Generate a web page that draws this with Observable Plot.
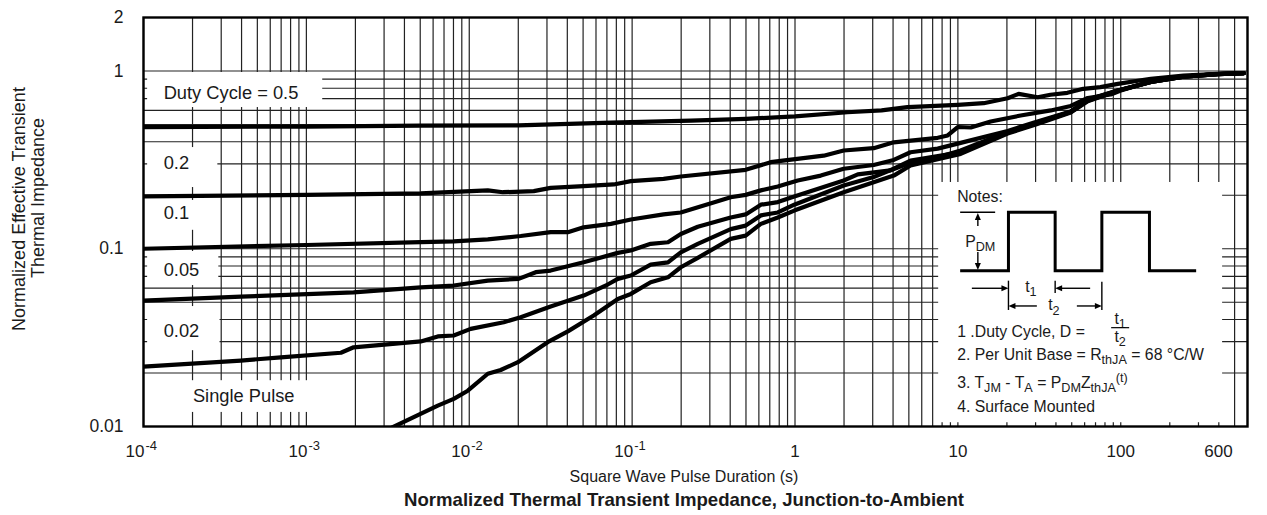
<!DOCTYPE html>
<html><head><meta charset="utf-8">
<script src="https://cdn.jsdelivr.net/npm/d3@7"></script>
<script src="https://cdn.jsdelivr.net/npm/@observablehq/plot@0.6"></script>
<style>body{margin:0;background:#fff} svg{display:block} text{white-space:pre}</style>
</head><body><div id="chart"></div>
<script>
// ---- data: pulse duration (s) and normalized Z per duty cycle ----
const t_d05 = [1e-4, 1e-3, 5e-3, 0.02, 0.074, 0.23, 0.5, 1.0, 2.1, 3.4, 4.9, 10, 14.4, 20.2, 23.6, 30.9, 37, 47, 59, 75, 96, 153, 243, 394, 569];
const z_d05 = [0.483, 0.487, 0.493, 0.495, 0.513, 0.526, 0.538, 0.555, 0.586, 0.60, 0.626, 0.645, 0.659, 0.703, 0.744, 0.712, 0.735, 0.754, 0.794, 0.811, 0.847, 0.904, 0.943, 0.964, 0.972];

const t_d02 = [1e-4, 1e-3, 0.00504, 0.013, 0.0161, 0.0249, 0.0316, 0.0504, 0.0771, 0.0982, 0.156, 0.199, 0.498, 0.709, 1.5, 1.99, 3.04, 4.04, 7.52, 8.66, 9.98, 12.0, 15.9, 24.3, 37.2, 49.3, 62.7, 86.7, 100, 153, 243, 394, 569];
const z_d02 = [0.197, 0.201, 0.205, 0.213, 0.208, 0.211, 0.220, 0.225, 0.230, 0.240, 0.247, 0.255, 0.278, 0.307, 0.334, 0.357, 0.368, 0.397, 0.421, 0.434, 0.484, 0.481, 0.520, 0.562, 0.600, 0.636, 0.705, 0.738, 0.777, 0.873, 0.931, 0.962, 0.972];

const t_d01 = [1e-4, 1e-3, 0.00504, 0.00803, 0.013, 0.0207, 0.0316, 0.0403, 0.0504, 0.074, 0.0982, 0.156, 0.199, 0.403, 0.498, 0.617, 0.784, 1.04, 1.44, 1.99, 3.04, 4.04, 5.12, 7.52, 10.4, 20.2, 30.1, 49.3, 62.7, 95.8, 153, 243, 394, 569];
const z_d01 = [0.100, 0.105, 0.109, 0.110, 0.113, 0.118, 0.124, 0.124, 0.132, 0.138, 0.146, 0.156, 0.160, 0.195, 0.201, 0.213, 0.224, 0.242, 0.258, 0.282, 0.296, 0.316, 0.349, 0.366, 0.394, 0.460, 0.516, 0.592, 0.691, 0.777, 0.868, 0.930, 0.960, 0.972];

const t_d005 = [1e-4, 0.000396, 0.00195, 0.00504, 0.00803, 0.013, 0.0201, 0.0256, 0.0316, 0.0504, 0.0817, 0.0982, 0.130, 0.166, 0.199, 0.253, 0.403, 0.498, 0.617, 0.784, 0.99, 1.99, 2.43, 3.86, 4.92, 7.52, 10.4, 20.2, 30.1, 49.3, 62.7, 95.8, 153, 243, 394, 569];
const z_d005 = [0.0511, 0.0538, 0.0569, 0.0607, 0.0621, 0.0662, 0.0677, 0.0738, 0.0754, 0.0839, 0.0948, 0.0977, 0.1066, 0.1088, 0.121, 0.133, 0.150, 0.156, 0.177, 0.183, 0.197, 0.242, 0.262, 0.276, 0.301, 0.327, 0.357, 0.454, 0.510, 0.590, 0.687, 0.777, 0.868, 0.930, 0.960, 0.972];

const t_d002 = [1e-4, 0.000396, 0.000697, 0.00163, 0.00195, 0.00504, 0.00641, 0.00803, 0.0102, 0.0163, 0.0207, 0.0316, 0.0504, 0.0708, 0.0817, 0.0982, 0.130, 0.166, 0.199, 0.253, 0.403, 0.498, 0.617, 0.784, 0.99, 1.99, 3.04, 4.04, 5.12, 10.4, 20.2, 30.1, 49.3, 62.7, 95.8, 153, 243, 394, 569];
const z_d002 = [0.0217, 0.0235, 0.0245, 0.0260, 0.0279, 0.0301, 0.0321, 0.0325, 0.0354, 0.0386, 0.0412, 0.0473, 0.0545, 0.0629, 0.0677, 0.0707, 0.0815, 0.0839, 0.0955, 0.1066, 0.129, 0.135, 0.154, 0.160, 0.177, 0.227, 0.253, 0.282, 0.313, 0.349, 0.450, 0.505, 0.588, 0.680, 0.775, 0.868, 0.930, 0.960, 0.972];

const t_single = [0.0033, 0.00641, 0.00803, 0.0098, 0.013, 0.0156, 0.0199, 0.0303, 0.0403, 0.0581, 0.0817, 0.0982, 0.130, 0.166, 0.199, 0.253, 0.403, 0.498, 0.617, 0.784, 0.99, 1.99, 3.04, 4.04, 5.12, 10.4, 20.2, 30.1, 49.3, 62.7, 95.8, 153, 243, 394, 569];
const z_single = [0.0098, 0.0131, 0.0143, 0.0159, 0.0198, 0.0208, 0.0230, 0.0298, 0.0343, 0.0421, 0.0522, 0.0557, 0.0648, 0.0691, 0.0787, 0.0889, 0.1137, 0.1186, 0.138, 0.150, 0.164, 0.208, 0.237, 0.258, 0.294, 0.342, 0.445, 0.500, 0.585, 0.675, 0.775, 0.868, 0.930, 0.960, 0.972];

const seriesNames = ["0.5", "0.2", "0.1", "0.05", "0.02", "Single Pulse"];
const seriesT = [t_d05, t_d02, t_d01, t_d005, t_d002, t_single];
const seriesZ = [z_d05, z_d02, z_d01, z_d005, z_d002, z_single];

// ---- ticks and labels ----
const xPowTicks = [1e-4, 1e-3, 1e-2, 1e-1];
const xPowExp = ["-4", "-3", "-2", "-1"];
const xPlainTicks = [1, 10, 100];
const xEndTick = [600];
const yTickValues = [0.01, 0.1, 1, 2];
const yTickLabels = ["0.01", "0.1", "1", "2"];

const curveLabels = ["Duty Cycle = 0.5", "0.2", "0.1", "0.05", "0.02", "Single Pulse"];
const curveLabelT = [1.33e-4, 1.33e-4, 1.33e-4, 1.33e-4, 1.33e-4, 2.01e-4];
const curveLabelZ = [0.747, 0.302, 0.158, 0.0754, 0.0342, 0.0149];

// white backing boxes (label boxes + notes box), in data units
const boxT1 = [1.06e-4, 1.06e-4, 1.06e-4, 1.06e-4, 1.06e-4, 1.06e-4, 7.62];
const boxT2 = [1.26e-3, 2.86e-4, 2.86e-4, 2.9e-4, 2.95e-4, 1.75e-3, 422];
const boxZ1 = [0.623, 0.221, 0.127, 0.0621, 0.0267, 0.0120, 0.0105];
const boxZ2 = [0.981, 0.371, 0.187, 0.0965, 0.0473, 0.0181, 0.236];

const rows = seriesNames.flatMap((s, k) => seriesT[k].map((t, i) => ({series: s, t, z: seriesZ[k][i]})));
const boxes = boxT1.map((v, i) => ({t1: v, t2: boxT2[i], z1: boxZ1[i], z2: boxZ2[i]}));
const gridX = d3.range(-4, 3).flatMap(k => d3.range(1, 10).map(m => m * 10 ** k)).filter(v => v <= 600);
const gridY = d3.range(-2, 0).flatMap(k => d3.range(1, 10).map(m => m * 10 ** k)).concat([1]);

const FONT = "'Liberation Sans', Arial, Helvetica, sans-serif";
const INK = "#1a1a1a";

const chart = Plot.plot({
  width: 1267, height: 515,
  marginLeft: 143, marginRight: 20, marginTop: 17, marginBottom: 89,
  style: {fontFamily: FONT, fontSize: "17px", color: INK, background: "white"},
  x: {type: "log", domain: [1e-4, 600], axis: null},
  y: {type: "log", domain: [0.01, 2], axis: null},
  marks: [
    Plot.ruleX(gridX, {stroke: "#222", strokeWidth: 1.2}),
    Plot.ruleY(gridY, {stroke: "#222", strokeWidth: 1.2}),
    Plot.rect(boxes, {x1: "t1", x2: "t2", y1: "z1", y2: "z2", fill: "white"}),
    Plot.line(rows, {x: "t", y: "z", z: "series", stroke: "black", strokeWidth: 4.2, strokeLinejoin: "round", clip: true}),
    Plot.frame({stroke: "black", strokeWidth: 2.4}),
    Plot.text(curveLabels, {x: (d, i) => curveLabelT[i], y: (d, i) => curveLabelZ[i], text: d => d, textAnchor: "start", fontSize: 18.3, fill: INK}),
    Plot.text(yTickValues, {y: d => d, text: (d, i) => yTickLabels[i], frameAnchor: "left", textAnchor: "end", dx: -20, fontSize: 17.5, fill: INK}),
    Plot.text(xPowTicks, {x: d => d, text: () => "10", frameAnchor: "bottom", textAnchor: "end", dx: 1, dy: 30, fontSize: 17, fill: INK}),
    Plot.text(xPowTicks, {x: d => d, text: (d, i) => xPowExp[i], frameAnchor: "bottom", textAnchor: "start", dx: 2, dy: 23, fontSize: 13, fill: INK}),
    Plot.text(xPlainTicks, {x: d => d, text: d => String(d), frameAnchor: "bottom", dy: 30, fontSize: 17, fill: INK}),
    Plot.text(xEndTick, {x: d => d, text: d => String(d), frameAnchor: "bottom", dx: -29, dy: 30, fontSize: 17, fill: INK})
  ]
});
document.getElementById("chart").appendChild(chart);

const svg = d3.select(chart);
const sx = chart.scale("x"), sy = chart.scale("y");

// axis titles
const ttl = svg.append("g").attr("font-family", FONT).attr("fill", INK);
ttl.append("text").attr("x", 684).attr("y", 482).attr("text-anchor", "middle").attr("font-size", 16).text("Square Wave Pulse Duration (s)");
ttl.append("text").attr("x", 684).attr("y", 506).attr("text-anchor", "middle").attr("font-size", 18.6).attr("font-weight", "bold").text("Normalized Thermal Transient Impedance, Junction-to-Ambient");
ttl.append("text").attr("transform", "translate(25,209) rotate(-90)").attr("text-anchor", "middle").attr("font-size", 18).text("Normalized Effective Transient");
ttl.append("text").attr("transform", "translate(43.5,198) rotate(-90)").attr("text-anchor", "middle").attr("font-size", 18).text("Thermal Impedance");

// notes panel
const bx = sx.apply(boxT1[6]), by = sy.apply(boxZ2[6]);
const g = svg.append("g").attr("transform", `translate(${bx},${by})`).attr("font-family", FONT).attr("fill", INK);
function rich(x, y, segs, size, anchor) {
  const t = g.append("text").attr("x", x).attr("y", y).attr("font-size", size).attr("text-anchor", anchor || "start");
  let level = 0;
  for (const s of segs) {
    const target = s.sub ? 4.5 : s.sup ? -6 : 0;
    t.append("tspan").attr("dy", target - level).attr("font-size", (s.sub || s.sup) ? size * 0.8 : size).text(s.t);
    level = target;
  }
}
function line(x1, y1, x2, y2, w) {
  g.append("line").attr("x1", x1).attr("y1", y1).attr("x2", x2).attr("y2", y2).attr("stroke", "black").attr("stroke-width", w || 1.4);
}
function head(x, y, dir) {
  const L = 7, W = 3;
  let p;
  if (dir === "r") p = `M${x},${y}L${x - L},${y - W}L${x - L},${y + W}Z`;
  if (dir === "l") p = `M${x},${y}L${x + L},${y - W}L${x + L},${y + W}Z`;
  if (dir === "u") p = `M${x},${y}L${x - W},${y + L}L${x + W},${y + L}Z`;
  if (dir === "d") p = `M${x},${y}L${x - W},${y - L}L${x + W},${y - L}Z`;
  g.append("path").attr("d", p).attr("fill", "black");
}
const FS = 15.8;
rich(19, 20, [{t: "Notes:"}], FS);
const wave = [[22, 88.7], [70.3, 88.7], [70.3, 30.3], [117, 30.3], [117, 88.7], [163.7, 88.7], [163.7, 30.3], [211.3, 30.3], [211.3, 88.7], [258, 88.7]];
g.append("path").attr("d", "M" + wave.map(p => p.join(",")).join("L")).attr("fill", "none").attr("stroke", "black").attr("stroke-width", 3);
line(22, 30.3, 57, 30.3, 1.4);
line(39.7, 44, 39.7, 34); head(39.7, 31, "u");
line(39.7, 70, 39.7, 84); head(39.7, 88, "d");
rich(27, 64.7, [{t: "P"}, {t: "DM", sub: true}], FS);
// t1 / t2 dimension marks
line(70.3, 98.7, 70.3, 128); line(117, 98.7, 117, 111); line(163.7, 99.7, 163.7, 128);
line(33.7, 106.3, 64, 106.3); head(70.3, 106.3, "r");
line(152, 106.3, 123, 106.3); head(117, 106.3, "l");
rich(87, 110, [{t: "t"}, {t: "1", sub: true}], FS);
line(98.7, 124, 76, 124); head(70.3, 124, "l");
line(138.7, 124, 158, 124); head(163.7, 124, "r");
rich(110, 128.5, [{t: "t"}, {t: "2", sub: true}], FS);
// notes text
rich(19, 155, [{t: "1 .Duty Cycle, D =  "}], FS);
rich(182, 142, [{t: "t"}, {t: "1", sub: true}], FS, "middle");
line(173, 145.7, 191, 145.7, 1.2);
rich(182, 160, [{t: "t"}, {t: "2", sub: true}], FS, "middle");
rich(19, 178, [{t: "2. Per Unit Base = R"}, {t: "thJA", sub: true}, {t: " = 68 °C/W"}], FS);
rich(19, 206, [{t: "3. T"}, {t: "JM", sub: true}, {t: " - T"}, {t: "A", sub: true}, {t: " = P"}, {t: "DM", sub: true}, {t: "Z"}, {t: "thJA", sub: true}, {t: "(t)", sup: true}], FS);
rich(19, 230.5, [{t: "4. Surface Mounted"}], FS);
</script>
</body></html>
